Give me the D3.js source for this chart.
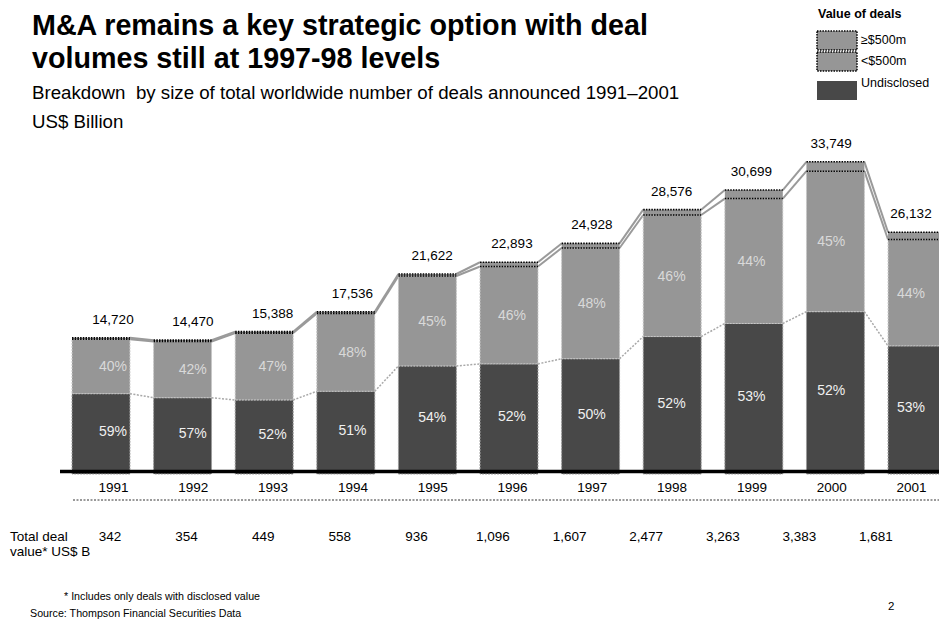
<!DOCTYPE html>
<html>
<head>
<meta charset="utf-8">
<script src="https://cdn.jsdelivr.net/npm/d3@7"></script>
<style>
  body { margin: 0; background: #fff; }
  svg { display: block; font-family: "Liberation Sans", Arial, Helvetica, sans-serif; }
</style>
</head>
<body>
<svg id="chart" width="939" height="620"></svg>
<script>
// Number of deals announced per year, split by disclosed deal value
const years = ["1991", "1992", "1993", "1994", "1995", "1996", "1997", "1998", "1999", "2000", "2001"];
const totalDeals = [14720, 14470, 15388, 17536, 21622, 22893, 24928, 28576, 30699, 33749, 26132];
const undisclosedPct = [59, 57, 52, 51, 54, 52, 50, 52, 53, 52, 53];
const under500Pct = [40, 42, 47, 48, 45, 46, 48, 46, 44, 45, 44];
const over500Pct = [1, 1, 1, 1, 1, 2, 2, 2, 3, 3, 3];
// Total disclosed deal value, US$ B
const totalValue = [342, 354, 449, 558, 936, 1096, 1607, 2477, 3263, 3383, 1681];

const legendItems = [
  { key: "over500", label: "\u2265$500m" },
  { key: "under500", label: "<$500m" },
  { key: "undisclosed", label: "Undisclosed" }
];

const DARK = "#484848", MID = "#969696", LINE = "#9a9a9a";
const fmt = d3.format(",");

const svg = d3.select("#chart");

// Rows of absolute deal counts per size class
const rows = years.map((year, i) => ({
  year,
  total: totalDeals[i],
  undisclosed: totalDeals[i] * undisclosedPct[i] / 100,
  under500: totalDeals[i] * under500Pct[i] / 100,
  over500: totalDeals[i] * over500Pct[i] / 100,
  pUnd: undisclosedPct[i],
  pUnder: under500Pct[i]
}));
const keys = ["undisclosed", "under500", "over500"];
const series = d3.stack().keys(keys)(rows);

// Scales
const x = d3.scaleBand().domain(years).range([72, 946]).paddingInner(0.29).paddingOuter(0);
const xl = d3.scalePoint().domain(years).range([113, 911]);
const xv = d3.scalePoint().domain(years).range([110, 876]);
const y = d3.scaleLinear().domain([0, 36000]).range([474, 141]);

// ---- Titles ----
svg.append("text").attr("x", 32).attr("y", 35)
  .attr("font-size", 28.7).attr("font-weight", "bold").attr("fill", "#000")
  .text("M&A remains a key strategic option with deal");
svg.append("text").attr("x", 32).attr("y", 68)
  .attr("font-size", 28.7).attr("font-weight", "bold").attr("fill", "#000")
  .text("volumes still at 1997-98 levels");
svg.append("text").attr("x", 32).attr("y", 99)
  .attr("font-size", 18.7).attr("fill", "#000")
  .attr("xml:space", "preserve")
  .text("Breakdown  by size of total worldwide number of deals announced 1991\u20132001");
svg.append("text").attr("x", 32).attr("y", 128)
  .attr("font-size", 18.7).attr("fill", "#000")
  .text("US$ Billion");

// ---- Connector lines between adjacent bars ----
const connectorStyle = {
  undisclosed: { width: 1.5, dash: "2,1.5", color: "#a8a8a8" },
  under500: { width: 2, dash: null, color: LINE },
  over500: { width: 2, dash: null, color: LINE }
};
const conn = svg.append("g");
series.forEach(s => {
  const st = connectorStyle[s.key];
  const pairs = d3.pairs(s);
  conn.selectAll(null).data(pairs).join("line")
    .attr("x1", d => x(d[0].data.year) + x.bandwidth())
    .attr("y1", d => y(d[0][1]))
    .attr("x2", d => x(d[1].data.year))
    .attr("y2", d => y(d[1][1]))
    .attr("stroke", st.color)
    .attr("stroke-width", st.width)
    .attr("stroke-dasharray", st.dash);
});

// ---- Bars ----
const bars = svg.append("g");
const undS = series.find(s => s.key === "undisclosed");
const undS2 = series.find(s => s.key === "under500");
const overS = series.find(s => s.key === "over500");

bars.selectAll("rect.und").data(undS).join("rect").attr("class", "und")
  .attr("x", d => x(d.data.year)).attr("width", x.bandwidth())
  .attr("y", d => y(d[1])).attr("height", d => y(d[0]) - y(d[1]))
  .attr("fill", DARK).attr("stroke", "#9c9c9c").attr("stroke-width", 1)
  .attr("stroke-dasharray", "2,1");

bars.selectAll("rect.sml").data(undS2).join("rect").attr("class", "sml")
  .attr("x", d => x(d.data.year)).attr("width", x.bandwidth())
  .attr("y", d => y(d[1])).attr("height", d => y(d[0]) - y(d[1]))
  .attr("fill", MID).attr("stroke", "#c8c8c8").attr("stroke-width", 1)
  .attr("stroke-dasharray", "2,1");

bars.selectAll("rect.big").data(overS).join("rect").attr("class", "big")
  .attr("x", d => x(d.data.year)).attr("width", x.bandwidth())
  .attr("y", d => y(d[1])).attr("height", d => y(d[0]) - y(d[1]))
  .attr("fill", MID);
// dotted black edges of the top segment
[0, 1].forEach(k => {
  bars.selectAll(null).data(overS).join("line")
    .attr("x1", d => x(d.data.year)).attr("x2", d => x(d.data.year) + x.bandwidth())
    .attr("y1", d => y(d[k])).attr("y2", d => y(d[k]))
    .attr("stroke", "#000").attr("stroke-width", 1.6)
    .attr("stroke-dasharray", "1.5,1.2");
});

// ---- Percentage labels ----
const lbl = svg.append("g").attr("font-size", 14).attr("text-anchor", "middle");
lbl.selectAll("text.pu").data(undS).join("text").attr("class", "pu")
  .attr("x", d => xl(d.data.year))
  .attr("y", d => (y(d[1]) + Math.min(y(d[0]), 469)) / 2)
  .attr("dy", "0.35em").attr("fill", "#f0f0f0")
  .text(d => d.data.pUnd + "%");
lbl.selectAll("text.ps").data(undS2).join("text").attr("class", "ps")
  .attr("x", d => xl(d.data.year))
  .attr("y", d => (y(d[1]) + y(d[0])) / 2)
  .attr("dy", "0.35em").attr("fill", "#d9d9d9")
  .text(d => d.data.pUnder + "%");

// ---- Totals above bars ----
svg.append("g").attr("font-size", 13.5).attr("text-anchor", "middle")
  .selectAll("text").data(rows).join("text")
  .attr("x", d => xl(d.year))
  .attr("y", d => y(d.total) - 14)
  .attr("fill", "#000")
  .text(d => fmt(d.total));

// ---- Baseline ----
svg.append("line").attr("x1", 60).attr("x2", 939).attr("y1", 471.5).attr("y2", 471.5)
  .attr("stroke", "#000").attr("stroke-width", 3.5);

// ---- Year axis ----
const ax = svg.append("g").attr("transform", "translate(0,482)")
  .call(d3.axisBottom(xl).tickSize(0).tickPadding(0));
ax.select(".domain").remove();
ax.selectAll("text").attr("font-size", 13.5).attr("fill", "#000")
  .attr("font-family", "\"Liberation Sans\", Arial, sans-serif");

svg.append("line").attr("x1", 73).attr("x2", 939).attr("y1", 500).attr("y2", 500)
  .attr("stroke", "#000").attr("stroke-width", 0.8).attr("stroke-dasharray", "2,1.5");

// ---- Total deal value row ----
svg.append("text").attr("x", 10).attr("y", 541).attr("font-size", 13.5).text("Total deal");
svg.append("text").attr("x", 10).attr("y", 556).attr("font-size", 13.5).text("value* US$ B");
svg.append("g").attr("font-size", 13.5).attr("text-anchor", "middle")
  .selectAll("text").data(totalValue).join("text")
  .attr("x", (d, i) => xv(years[i])).attr("y", 541)
  .text(d => fmt(d));

// ---- Footnotes ----
svg.append("text").attr("x", 64).attr("y", 600).attr("font-size", 10.7)
  .text("* Includes only deals with disclosed value");
svg.append("text").attr("x", 30).attr("y", 617).attr("font-size", 10.7)
  .text("Source:  Thompson Financial Securities Data");
svg.append("text").attr("x", 888).attr("y", 610).attr("font-size", 11.5)
  .text("2");

// ---- Legend ----
const lg = svg.append("g");
lg.append("text").attr("x", 818).attr("y", 18).attr("font-size", 12.5)
  .attr("font-weight", "bold").text("Value of deals");
const boxY = d3.scaleOrdinal().domain(legendItems.map(d => d.key)).range([31, 52, 81]);
legendItems.forEach(item => {
  const by = boxY(item.key);
  const r = lg.append("rect").attr("x", 817).attr("y", by).attr("width", 40).attr("height", 19)
    .attr("fill", item.key === "undisclosed" ? DARK : MID);
  if (item.key !== "undisclosed") {
    r.attr("stroke", "#000").attr("stroke-width", 1.5).attr("stroke-dasharray", "1.5,1.2");
  }
  lg.append("text").attr("x", 861).attr("y", item.key === "undisclosed" ? by + 2 : by + 9)
    .attr("dy", "0.35em").attr("font-size", 12.5).text(item.label);
});
</script>
</body>
</html>
